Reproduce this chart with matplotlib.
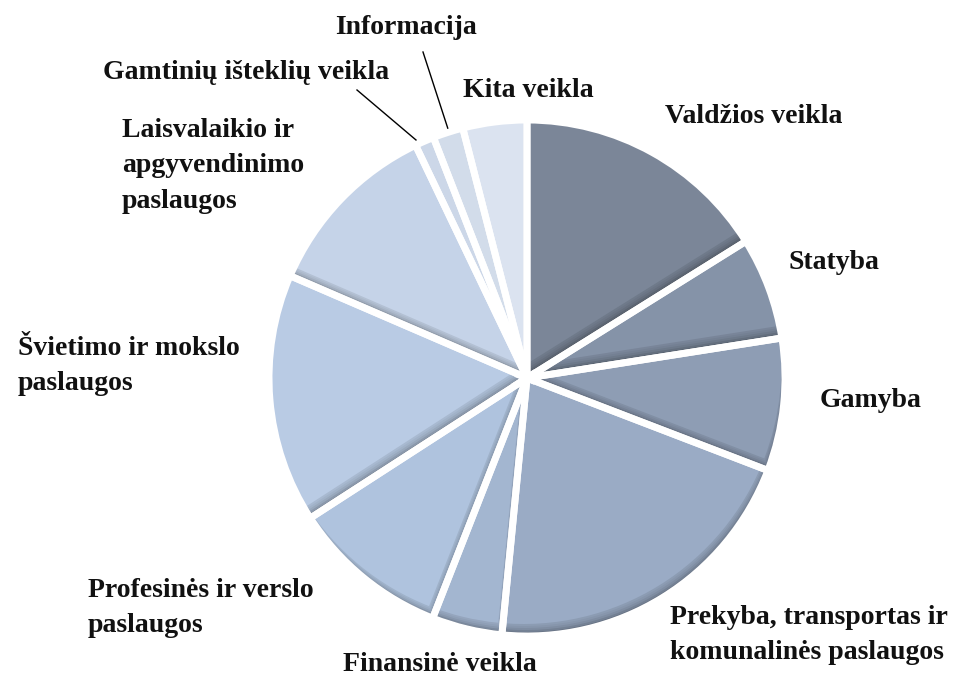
import numpy as np
import matplotlib.pyplot as plt
from matplotlib.patches import Wedge
from matplotlib.colors import to_rgb

# data (share of each sector, %), clockwise from 12 o'clock
sectors = ["Valdžios veikla", "Statyba", "Gamyba",
           "Prekyba, transportas ir\nkomunalinės paslaugos", "Finansinė veikla",
           "Profesinės ir verslo\npaslaugos", "Švietimo ir mokslo\npaslaugos",
           "Laisvalaikio ir\napgyvendinimo\npaslaugos", "Gamtinių išteklių veikla",
           "Informacija", "Kita veikla"]
shares = [16.1, 6.4, 8.3, 20.7, 4.4, 9.9, 15.6, 11.4, 1.2, 1.9, 4.0]
colors = ["#7b8698", "#8593a8", "#8e9db4", "#9aabc5", "#a3b6d0", "#afc3de",
          "#b9cbe4", "#c5d3e8", "#ccd7e8", "#d2dcea", "#dbe3f0"]

# label placement (pixel coords, left / top)
label_pos = [(665, 104), (788, 250), (820, 388), (670, 605), (343, 652),
             (88, 578), (18, 336), (122, 118), (103, 60), (335, 15), (463, 78)]

W, H = 959, 687
cx, cy, R = 527, H - 378, 258

fig = plt.figure(figsize=(W / 100, H / 100), dpi=100)
ax = fig.add_axes([0, 0, 1, 1])

dark = [tuple(np.array(to_rgb(c)) * 0.5) for c in colors]
wedges, _ = ax.pie(shares, colors=dark, startangle=90, counterclock=False,
                   center=(cx, cy), radius=R,
                   wedgeprops=dict(edgecolor="none", linewidth=0))

# soft bevel: lighter copies shifted up, clipped to the slice
shifts = [2, 4, 6, 8, 10, 12]
for w, c in zip(wedges, colors):
    for k, d in enumerate(shifts):
        a = 1.0 if k == len(shifts) - 1 else 0.3
        s = Wedge((w.center[0] - d * 0.3, w.center[1] + d), w.r, w.theta1, w.theta2,
                  facecolor=c, edgecolor="none", alpha=a, zorder=2)
        ax.add_patch(s)
        s.set_clip_path(w)
    ax.add_patch(Wedge(w.center, w.r, w.theta1, w.theta2, facecolor="none",
                       edgecolor="white", linewidth=5, zorder=3))

font = dict(family="Liberation Serif", fontweight="bold", fontsize=20,
            color="#111111", linespacing=1.55)
for txt, (x, y) in zip(sectors, label_pos):
    ax.text(x, H - y, txt, ha="left", va="top", **font)

# leader lines for the small slices
ax.plot([357, 416], [H - 90, H - 140], color="black", lw=1)
ax.plot([423, 449], [H - 52, H - 132], color="black", lw=1)

ax.set_xlim(0, W)
ax.set_ylim(0, H)
ax.set_aspect("auto")
ax.axis("off")
fig.savefig("out.png", dpi=100, facecolor="white")
